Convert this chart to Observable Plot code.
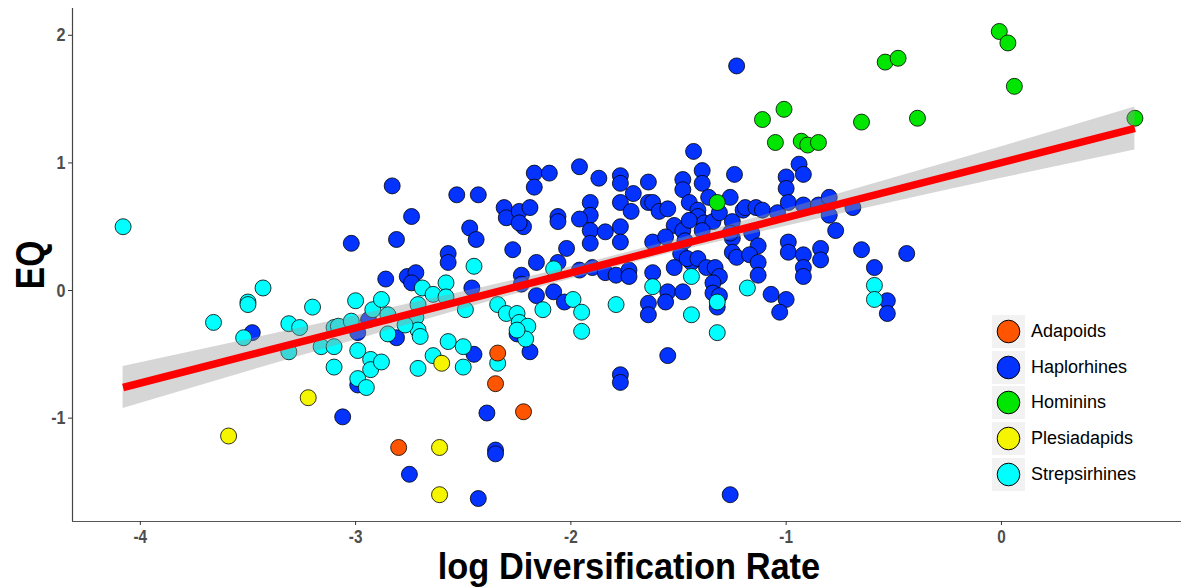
<!DOCTYPE html>
<html><head><meta charset="utf-8">
<script src="https://cdn.jsdelivr.net/npm/d3@7"></script>
<script src="https://cdn.jsdelivr.net/npm/@observablehq/plot@0.6"></script>
<style>
html,body{margin:0;padding:0;background:#fff;overflow:hidden;}
#wrap{position:relative;width:1181px;height:587px;overflow:hidden;font-family:"Liberation Sans",Arial,sans-serif;}
#chart svg{max-width:none !important;}
#legend{position:absolute;left:992px;top:315px;}
.row{display:flex;align-items:center;height:33px;margin-bottom:2.7px;}
.key{width:33px;height:33px;background:#f2f2f2;display:flex;align-items:center;justify-content:center;}
.lab{margin-left:6px;font-size:18px;color:#000;}
</style></head><body><div id="wrap"><div id="chart"></div><div id="legend"></div></div>
<script>
const groups = ["Adapoids","Haplorhines","Hominins","Plesiadapids","Strepsirhines"];
const colors = ["#FF5500","#0433FF","#00E600","#F5F500","#00FFFF"];
const xTicks = [-4,-3,-2,-1,0];
const yTicks = [-1,0,1,2];
const xDomain = [-4.315, 0.855];
const yDomain = [-1.81, 2.21];
const xTitle = "log Diversification Rate";
const yTitle = "EQ";

const adapoids = [[-2.34,-0.49],[-2.35,-0.73],[-2.22,-0.95],[-2.80,-1.23]];
const plesiadapids = [[-3.59,-1.14],[-3.22,-0.84],[-2.60,-0.57],[-2.61,-1.23],[-2.61,-1.60]];
const hominins = [[-1.32,0.69],[-1.11,1.34],[-1.01,1.42],[-1.05,1.16],[-0.93,1.17],[-0.90,1.14],[-0.85,1.16],[-0.65,1.32],[-0.54,1.79],[-0.48,1.82],[-0.39,1.35],[-0.01,2.03],[0.03,1.94],[0.06,1.60],[0.62,1.35]];
const strepsirhines = [[-4.08,0.50],[-3.43,0.02],[-3.50,-0.09],[-3.50,-0.11],[-3.20,-0.13],[-3.66,-0.25],[-3.52,-0.37],[-3.31,-0.26],[-3.26,-0.29],[-3.31,-0.48],[-3.10,-0.29],[-3.08,-0.28],[-3.02,-0.24],[-3.16,-0.44],[-3.10,-0.44],[-3.10,-0.60],[-3.00,-0.08],[-2.92,-0.15],[-2.88,-0.07],[-2.99,-0.47],[-2.93,-0.54],[-2.93,-0.62],[-2.88,-0.56],[-2.99,-0.69],[-2.95,-0.76],[-2.85,-0.19],[-2.85,-0.34],[-2.71,-0.11],[-2.72,-0.21],[-2.71,-0.31],[-2.70,-0.36],[-2.77,-0.27],[-2.69,0.02],[-2.64,-0.03],[-2.58,0.06],[-2.58,-0.05],[-2.71,-0.61],[-2.64,-0.51],[-2.57,-0.40],[-2.50,-0.44],[-2.50,-0.60],[-2.45,0.19],[-2.49,-0.15],[-2.34,-0.57],[-2.34,-0.11],[-2.30,-0.18],[-2.25,-0.18],[-2.24,-0.25],[-2.20,-0.28],[-2.21,-0.38],[-2.25,-0.31],[-2.13,-0.15],[-2.08,0.17],[-1.99,-0.07],[-1.95,-0.17],[-1.95,-0.32],[-1.79,-0.11],[-1.62,0.03],[-1.44,0.11],[-1.44,-0.19],[-1.32,-0.09],[-1.32,-0.33],[-1.18,0.02],[-0.59,0.04],[-0.59,-0.07]];
const haplorhines = [[-3.02,0.37],[-3.48,-0.33],[-3.06,-0.99],[-2.99,-0.33],[-2.94,-0.23],[-2.99,-0.74],[-2.83,0.82],[-2.74,0.58],[-2.81,0.40],[-2.86,0.09],[-2.76,0.11],[-2.72,0.14],[-2.74,0.06],[-2.81,-0.37],[-2.75,-1.44],[-2.53,0.75],[-2.43,0.75],[-2.47,0.49],[-2.44,0.40],[-2.57,0.29],[-2.57,0.22],[-2.46,0.02],[-2.45,-0.50],[-2.39,-0.96],[-2.35,-1.25],[-2.35,-1.28],[-2.43,-1.63],[-2.19,-0.48],[-2.25,-0.34],
[-2.17,0.92],[-2.10,0.92],[-2.17,0.81],[-2.31,0.65],[-2.30,0.57],[-2.24,0.62],[-2.19,0.65],[-2.22,0.50],[-2.24,0.53],[-2.06,0.58],[-2.06,0.54],[-2.27,0.32],[-2.16,0.22],[-2.06,0.22],[-2.23,0.12],[-2.23,0.05],[-2.16,-0.04],[-2.08,-0.01],[-2.03,-0.09],[-2.02,0.33],
[-1.96,0.97],[-1.87,0.88],[-1.77,0.90],[-1.77,0.84],[-1.71,0.76],[-1.64,0.85],[-1.91,0.69],[-1.91,0.59],[-1.96,0.56],[-1.91,0.47],[-1.91,0.37],[-1.84,0.46],[-1.77,0.50],[-1.77,0.38],[-1.77,0.69],[-1.72,0.62],[-1.96,0.16],[-1.90,0.18],[-1.84,0.14],[-1.79,0.12],[-1.73,0.16],[-1.73,0.11],[-1.77,-0.66],[-1.77,-0.72],
[-1.43,1.09],[-1.39,0.94],[-1.39,0.84],[-1.48,0.87],[-1.48,0.79],[-1.64,0.69],[-1.62,0.69],[-1.59,0.62],[-1.55,0.64],[-1.52,0.51],[-1.48,0.47],[-1.62,0.38],[-1.56,0.42],[-1.45,0.69],[-1.41,0.63],[-1.41,0.58],[-1.36,0.73],[-1.38,0.53],[-1.34,0.54],[-1.31,0.61],[-1.26,0.73],[-1.20,0.63],[-1.49,0.29],[-1.44,0.22],[-1.46,0.25],[-1.62,0.14],[-1.52,0.18],[-1.41,0.25],[-1.37,0.18],[-1.33,0.18],[-1.31,0.11],[-1.34,0.06],[-1.34,-0.02],[-1.31,-0.04],[-1.32,-0.13],[-1.55,-0.01],[-1.56,-0.09],[-1.64,-0.10],[-1.64,-0.19],[-1.48,-0.01],[-1.55,-0.51],[-1.39,0.47],[-1.45,0.55],[-1.47,0.39],
[-1.23,1.76],[-1.24,0.91],[-1.19,0.65],[-1.14,0.65],[-1.11,0.63],[-1.04,0.61],[-1.25,0.54],[-1.25,0.41],[-1.16,0.45],[-1.13,0.35],[-1.25,0.30],[-1.23,0.26],[-1.17,0.28],[-1.13,0.22],[-1.13,0.12],[-1.26,0.45],[-0.94,0.99],[-0.92,0.91],[-1.00,0.89],[-1.00,0.80],[-0.99,0.69],[-0.92,0.67],[-0.85,0.67],[-0.80,0.73],[-0.80,0.59],[-0.69,0.65],[-0.77,0.47],[-0.99,0.38],[-0.99,0.30],[-0.92,0.28],[-0.92,0.18],[-0.92,0.11],[-0.84,0.33],[-0.84,0.24],[-1.07,-0.03],[-1.00,-0.07],[-1.03,-0.17],[-1.26,-1.60],
[-0.65,0.32],[-0.44,0.29],[-0.59,0.18],[-0.53,-0.08],[-0.53,-0.18]];

// fitted trend line and its confidence band
const fitX    = [-4.08, -3.5, -3.0, -2.5, -2.0, -1.5, -1.0, -0.5, 0.0, 0.62];
const fitY    = [-0.760, -0.509, -0.293, -0.077, 0.139, 0.355, 0.571, 0.787, 1.003, 1.270];
const fitLow  = [-0.925, -0.634, -0.388, -0.144, 0.091, 0.307, 0.504, 0.693, 0.879, 1.102];
const fitHigh = [-0.595, -0.384, -0.198, -0.010, 0.187, 0.403, 0.638, 0.881, 1.127, 1.438];

const drawOrder = [["Haplorhines", haplorhines],["Strepsirhines", strepsirhines],["Adapoids", adapoids],["Plesiadapids", plesiadapids],["Hominins", hominins]];
const table = drawOrder.flatMap(([g, pts]) => pts.map(([x, y]) => ({g, x, y})));
const fit = fitX.map((x, i) => ({x, y: fitY[i], lo: fitLow[i], hi: fitHigh[i]}));

const chart = Plot.plot({
  width: 1189, height: 587,
  marginLeft: 72, marginRight: 4, marginTop: 8, marginBottom: 66,
  x: {domain: xDomain},
  y: {domain: yDomain},
  color: {domain: groups, range: colors},
  style: {fontFamily: "'Liberation Sans', Arial, sans-serif", background: "white", maxWidth: "none"},
  marks: [
    Plot.ruleX([xDomain[0]], {stroke: "#444", strokeWidth: 1.2}),
    Plot.ruleY([yDomain[0]], {stroke: "#555", strokeWidth: 1.2}),
    Plot.axisX({ticks: xTicks, tickFormat: d => String(d), tickSize: 4, tickPadding: 5, fontSize: 18, fontWeight: "bold", fill: "#4d4d4d", stroke: "#333", label: null}),
    Plot.axisY({ticks: yTicks, tickFormat: d => String(d), tickSize: 4, tickPadding: 3, fontSize: 19, fontWeight: "bold", fill: "#4d4d4d", stroke: "#333", label: null}),
    Plot.dot(table, {x: "x", y: "y", fill: "g", r: 8, stroke: "black", strokeWidth: 0.8}),
    Plot.areaY(fit, {x: "x", y1: "lo", y2: "hi", fill: "#999999", fillOpacity: 0.4, curve: "monotone-x"}),
    Plot.line(fit, {x: "x", y: "y", stroke: "#FF0000", strokeWidth: 7.5, strokeLinecap: "butt"}),
    Plot.text([xTitle], {frameAnchor: "bottom", dy: 46, fontSize: 37, fontWeight: "bold", fill: "black", lineAnchor: "middle"}),
    Plot.text([yTitle], {frameAnchor: "left", dx: -42, rotate: -90, fontSize: 41, fontWeight: "bold", fill: "black", textAnchor: "middle", lineAnchor: "middle"})
  ]
});
chart.style.maxWidth = "none";
document.getElementById("chart").appendChild(chart);

// narrow bold look of the axis texts: compress glyphs along the baseline
const tickLabels = new Set([...xTicks, ...yTicks].map(String));
chart.querySelectorAll("text").forEach(t => {
  const s = t.textContent;
  let k = null;
  if (s === xTitle) k = 0.93;
  else if (s === yTitle) k = 0.82;
  else if (tickLabels.has(s)) k = 0.85;
  if (k !== null) {
    const w = t.getComputedTextLength();
    if (w > 0) {
      t.setAttribute("textLength", (w * k).toFixed(2));
      t.setAttribute("lengthAdjust", "spacingAndGlyphs");
    }
  }
});

const legend = document.getElementById("legend");
groups.forEach((g, i) => {
  const row = document.createElement("div");
  row.className = "row";
  row.innerHTML = `<div class="key"><svg width="33" height="33"><circle cx="16.5" cy="16.5" r="11.3" fill="${colors[i]}" stroke="black" stroke-width="1"/></svg></div><div class="lab">${g}</div>`;
  legend.appendChild(row);
});
</script></body></html>
